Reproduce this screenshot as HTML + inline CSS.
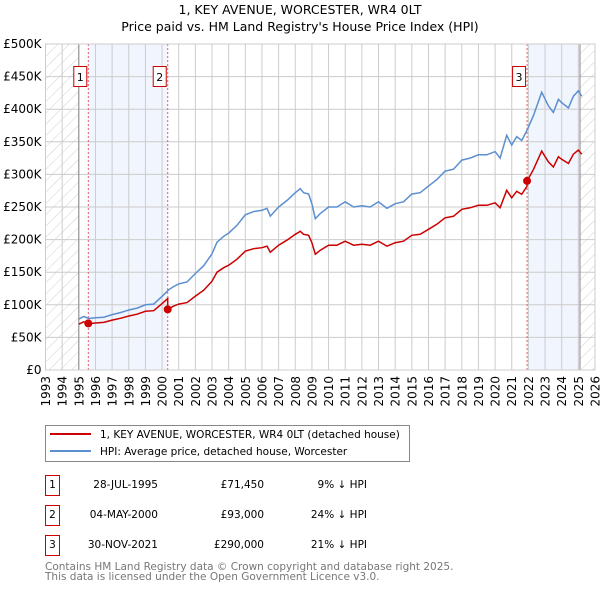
<!DOCTYPE html>
<html><head><meta charset="utf-8"><style>
body{margin:0;background:#fff;font-family:"DejaVu Sans","Liberation Sans",sans-serif;}
svg{display:block}
</style></head><body>
<svg width="600" height="590" xmlns="http://www.w3.org/2000/svg" font-family="DejaVu Sans, Liberation Sans, sans-serif" id="chart">
<defs>
<pattern id="hatch" patternUnits="userSpaceOnUse" width="8" height="8" patternTransform="rotate(45)">
<line x1="0" y1="0" x2="0" y2="8" stroke="#d0d0d0" stroke-width="1"/>
</pattern>
</defs>
<text x="300" y="14" text-anchor="middle" font-size="12.5">1, KEY AVENUE, WORCESTER, WR4 0LT</text>
<text x="300" y="31" text-anchor="middle" font-size="12.5">Price paid vs. HM Land Registry's House Price Index (HPI)</text>
<g id="plot"></g>
<g>
<rect x="45.5" y="425.5" width="364" height="36" fill="#fff" stroke="#888"/>
<line x1="50" y1="434" x2="91" y2="434" stroke="#cc0000" stroke-width="2"/>
<text x="100" y="438" font-size="10.5">1, KEY AVENUE, WORCESTER, WR4 0LT (detached house)</text>
<line x1="50" y1="451" x2="91" y2="451" stroke="#5b8fd0" stroke-width="2"/>
<text x="100" y="455" font-size="10.5">HPI: Average price, detached house, Worcester</text>
</g>
<g id="table" font-size="10.5"></g>
<text x="45" y="570" font-size="10.5" fill="#777">Contains HM Land Registry data © Crown copyright and database right 2025.</text>
<text x="45" y="580" font-size="10.5" fill="#777">This data is licensed under the Open Government Licence v3.0.</text>
</svg>
<script>
const hpiYears=[1995.0,1995.3,1995.6,1996,1996.5,1997,1997.5,1998,1998.5,1999,1999.5,2000,2000.4,2000.7,2001,2001.5,2002,2002.5,2003,2003.3,2003.7,2004,2004.5,2005,2005.5,2006,2006.3,2006.5,2007,2007.5,2008,2008.3,2008.5,2008.8,2009,2009.2,2009.5,2010,2010.5,2011,2011.5,2012,2012.5,2013,2013.5,2014,2014.5,2015,2015.5,2016,2016.5,2017,2017.5,2018,2018.5,2019,2019.5,2020,2020.3,2020.7,2021,2021.3,2021.6,2021.92,2022.3,2022.8,2023.2,2023.5,2023.8,2024,2024.4,2024.7,2025,2025.2];
const hpiValues=[78,82,79,80,81,85,88,92,95,100,101,113,123,128,132,135,148,160,178,196,205,210,222,238,243,245,248,236,250,260,272,278,272,270,255,232,240,250,250,258,250,252,250,258,248,255,258,270,272,282,292,305,308,322,325,330,330,335,325,360,345,358,352,368,390,426,405,395,415,410,402,420,428,420];
const saleYears=[1995.57,2000.34,2021.92];
const salePrices=[71.45,93,290];
const saleLabels=["1","2","3"];
const saleDates=["28-JUL-1995","04-MAY-2000","30-NOV-2021"];
const salePriceText=["£71,450","£93,000","£290,000"];
const saleDiffs=["9% ↓ HPI","24% ↓ HPI","21% ↓ HPI"];
const yTicks=[0,50,100,150,200,250,300,350,400,450,500];
const yTickLabels=["£0","£50K","£100K","£150K","£200K","£250K","£300K","£350K","£400K","£450K","£500K"];
const xTicks=[1993,1994,1995,1996,1997,1998,1999,2000,2001,2002,2003,2004,2005,2006,2007,2008,2009,2010,2011,2012,2013,2014,2015,2016,2017,2018,2019,2020,2021,2022,2023,2024,2025,2026];

const NS="http://www.w3.org/2000/svg";
const X0=45.5,X1=595,Y0=370,Y1=44;
const xs=y=>X0+(y-1993)/(2026-1993)*(X1-X0);
const ys=v=>Y0-v/500*(Y0-Y1);
function mk(tag,attrs,parent){const e=document.createElementNS(NS,tag);for(const k in attrs)e.setAttribute(k,attrs[k]);parent.appendChild(e);return e;}
const plot=document.getElementById('plot');
function hpiAt(t){for(let i=0;i<hpiYears.length-1;i++){if(t>=hpiYears[i]&&t<=hpiYears[i+1]){const f=(t-hpiYears[i])/(hpiYears[i+1]-hpiYears[i]);return hpiValues[i]+f*(hpiValues[i+1]-hpiValues[i]);}}return hpiValues[hpiValues.length-1];}

let r=mk('rect',{x:xs(saleYears[0]),y:Y1,width:xs(saleYears[1])-xs(saleYears[0]),height:Y0-Y1,fill:'#eef3fc',opacity:0.8},plot);


r=mk('rect',{x:xs(saleYears[2]),y:Y1,width:xs(2025.1)-xs(saleYears[2]),height:Y0-Y1,fill:'#eef3fc',opacity:0.8},plot);


r=mk('rect',{x:X0,y:Y1,width:xs(1995)-X0,height:Y0-Y1,fill:'url(#hatch)'},plot);


r=mk('rect',{x:xs(2025.1),y:Y1,width:X1-xs(2025.1),height:Y0-Y1,fill:'url(#hatch)'},plot);



yTicks.forEach((v,i)=>{
 const l=mk('line',{x1:X0,x2:X1,y1:ys(v),y2:ys(v),stroke:'#cccccc','stroke-width':1},plot);
 
 
 const t=mk('text',{x:X0-4,y:ys(v)+4,'text-anchor':'end','font-size':12},plot);t.textContent=yTickLabels[i];
 
 
});
xTicks.forEach(y=>{
 const l=mk('line',{x1:xs(y),x2:xs(y),y1:Y1,y2:Y0,stroke:'#cccccc','stroke-width':1},plot);
 
 
 const t=mk('text',{x:0,y:0,'text-anchor':'end','font-size':12,transform:`translate(${xs(y)+4.5},${Y0+6}) rotate(-90)`},plot);t.textContent=y;
 
 
});
[1995,2025.1].forEach(y=>{const l=mk('line',{x1:xs(y),x2:xs(y),y1:Y1,y2:Y0,stroke:'#888','stroke-width':1},plot);
 
 });

saleYears.forEach(s=>{const l=mk('line',{x1:xs(s),x2:xs(s),y1:Y1,y2:Y0,stroke:'#e06060','stroke-width':1,'stroke-dasharray':'2,2'},plot);
 
 });

let d=hpiYears.map((y,i)=>(i?'L':'M')+xs(y).toFixed(1)+','+ys(hpiValues[i]).toFixed(1)).join('');
let p=mk('path',{d:d,fill:'none',stroke:'#5b8fd0','stroke-width':1.5},plot);



let pts=[];
hpiYears.forEach((y,i)=>{
 let k=0;for(let j=0;j<saleYears.length;j++)if(y>=saleYears[j])k=j;
 pts.push([y,salePrices[k]*hpiValues[i]/hpiAt(saleYears[k])]);
});
saleYears.forEach((s,j)=>{if(j>0)pts.push([s-0.001,salePrices[j-1]*hpiAt(s)/hpiAt(saleYears[j-1])]);pts.push([s,salePrices[j]]);});
pts.sort((a,b)=>a[0]-b[0]);
d=pts.map((q,i)=>(i?'L':'M')+xs(q[0]).toFixed(1)+','+ys(q[1]).toFixed(1)).join('');
p=mk('path',{d:d,fill:'none',stroke:'#cc0000','stroke-width':1.5},plot);



saleYears.forEach((s,j)=>{
 const c=mk('circle',{cx:xs(s),cy:ys(salePrices[j]),r:4,fill:'#cc0000'},plot);
 
 
 const b=mk('rect',{x:xs(s)-14.5,y:66.5,width:13,height:20,fill:'#fff',stroke:'#cc0000'},plot);
 
 
 const t=mk('text',{x:xs(s)-8,y:81,'text-anchor':'middle','font-size':11},plot);t.textContent=saleLabels[j];
 
 
});
r=mk('rect',{x:X0,y:Y1,width:X1-X0,height:Y0-Y1,fill:'none',stroke:'#cccccc'},plot);



const tb=document.getElementById('table');
saleLabels.forEach((lab,j)=>{
 const yy=475+j*30;
 const b=mk('rect',{x:45.5,y:yy+0.5,width:14,height:20,fill:'#fff',stroke:'#cc0000'},tb);
 
 
 let t=mk('text',{x:52.5,y:yy+13,'text-anchor':'middle'},tb);t.textContent=lab;
 
 
 t=mk('text',{x:158,y:yy+13,'text-anchor':'end'},tb);t.textContent=saleDates[j];
 
 
 t=mk('text',{x:264,y:yy+13,'text-anchor':'end'},tb);t.textContent=salePriceText[j];
 
 
 t=mk('text',{x:367,y:yy+13,'text-anchor':'end'},tb);t.textContent=saleDiffs[j];
 
 
});
</script>
</body></html>
